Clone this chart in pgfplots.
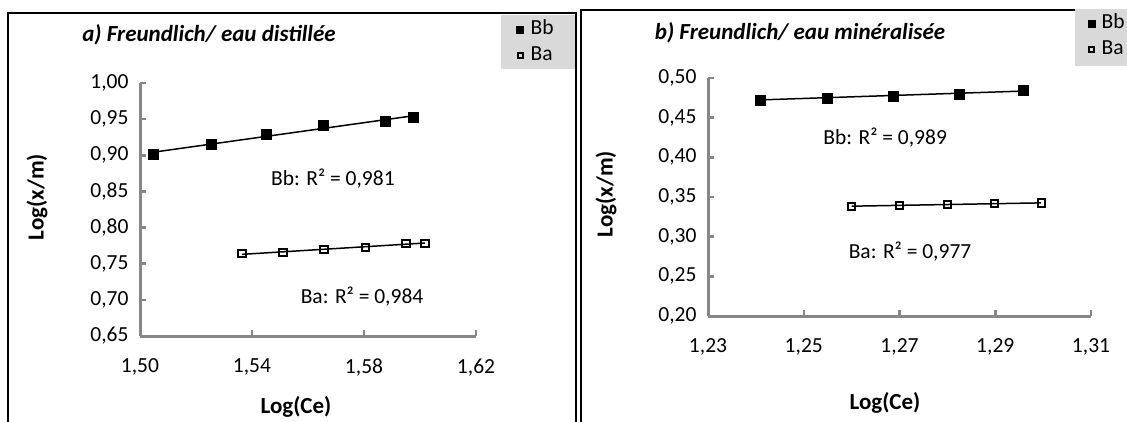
\documentclass[border=0pt]{standalone}
\usepackage{pgfplots}
\usepackage{pgfplotstable}
\pgfplotsset{compat=1.18}
\usepackage{fontspec}
\setmainfont{Carlito}
\definecolor{axgray}{HTML}{878787}
\definecolor{leggray}{HTML}{D9D9D9}
\newcommand{\fs}[1]{\fontsize{#1}{#1}\selectfont}

\pgfplotstableread{
x y
1.5046 0.902
1.5254 0.915
1.5452 0.929
1.5656 0.941
1.5875 0.947
1.5975 0.953
}\bbA
\pgfplotstableread{
x y
1.5364 0.7636
1.5511 0.7659
1.5657 0.7695
1.5804 0.7727
1.5950 0.7782
1.6018 0.7782
}\baA
\pgfplotstableread{
x y
1.2408 0.4725
1.2548 0.4750
1.2687 0.4775
1.2825 0.4800
1.2959 0.4840
}\bbB
\pgfplotstableread{
x y
1.2600 0.3384
1.2700 0.3396
1.2800 0.3409
1.2898 0.3418
1.2996 0.3425
}\baB

\pgfplotsset{
  excelax/.style={
    scale only axis, clip=false,
    axis x line*=bottom, axis y line*=left,
    axis line style={draw=axgray, line width=3pt},
    every outer x axis line/.append style={-},
    every outer y axis line/.append style={-},
    every inner x axis line/.append style={-},
    every inner y axis line/.append style={-},
    tick align=inside, major tick length=6pt,
    major tick style={draw=axgray, line width=2.5pt},
    tick label style={font=\fs{21.5}},
    /pgf/number format/assume math mode=true,
    /pgf/number format/use comma,
    /pgf/number format/fixed,
    /pgf/number format/fixed zerofill,
    /pgf/number format/precision=2,
    yticklabel style={xshift=-8pt},
    xticklabel style={yshift=-19pt},
    legend style={draw=none, fill=none, font=\fs{21.5}, inner sep=0pt,
      nodes={inner sep=2pt, text height=14pt, text depth=4pt},
      row sep=4pt,
      /tikz/every odd column/.append style={column sep=5pt}},
    legend cell align=left,
    legend image code/.code={\draw[##1, every mark/.append style={scale=0.7}] plot coordinates {(0pt,0pt)};},
  },
  bbplot/.style={only marks, mark=square*, mark size=5pt, mark options={solid, draw=black, fill=black}},
  baplot/.style={only marks, mark=square, mark size=3.6pt, mark options={solid, draw=black, line width=2pt, fill=white}},
  trend/.style={black, line width=1.5pt, no marks, forget plot},
}

\begin{document}
\begin{tikzpicture}[x=1pt,y=1pt]
\path[use as bounding box] (0,0) rectangle (1127,421);
\fill[leggray] (501,352) rectangle (575,406);
\draw[line width=2pt] (8,-10) -- (8,408) -- (576,408) -- (576,-10);
\draw[line width=1.3pt] (581,-10) -- (581,411) -- (1140,411);
\fill[leggray] (1075,355) rectangle (1127,412);

\node[font=\fs{23}\bfseries\itshape] at (209,386) {a) Freundlich/ eau distillée};
\node[font=\fs{23}\bfseries\itshape] at (800,388) {b) Freundlich/ eau minéralisée};
\node[font=\fs{23}\bfseries, rotate=90] at (37,224) {Log(x/m)};
\node[font=\fs{23}\bfseries, rotate=90] at (606,227) {Log(x/m)};
\node[font=\fs{23}\bfseries] at (296,14) {Log(Ce)};
\node[font=\fs{23}\bfseries] at (885,18) {Log(Ce)};

\begin{axis}[excelax, at={(140pt,85pt)}, anchor=south west,
  width=336pt, height=253pt,
  xmin=1.50, xmax=1.62, ymin=0.65, ymax=1.00,
  xtick={1.50,1.54,1.58,1.62},
  ytick={0.65,0.70,0.75,0.80,0.85,0.90,0.95,1.00},
  legend style={at={(1.1205,1.2569)}, anchor=north west}]
\addplot[trend] table[x=x, y={create col/linear regression={y=y}}] {\bbA};
\addplot[trend] table[x=x, y={create col/linear regression={y=y}}] {\baA};
\addplot[bbplot] table[x=x, y=y] {\bbA};
\addlegendentry{Bb}
\addplot[baplot] table[x=x, y=y] {\baA};
\addlegendentry{Ba}
\node[font=\fs{21.5}] at (axis cs:1.5689,0.868) {Bb: R² = 0,981};
\node[font=\fs{21.5}] at (axis cs:1.5793,0.704) {Ba: R² = 0,984};
\end{axis}

\begin{axis}[excelax, at={(708pt,105pt)}, anchor=south west,
  width=383pt, height=238pt,
  xmin=1.23, xmax=1.31, ymin=0.20, ymax=0.50,
  xtick={1.23,1.25,1.27,1.29,1.31},
  ytick={0.20,0.25,0.30,0.35,0.40,0.45,0.50},
  legend style={at={(0.9909,1.2773)}, anchor=north west}]
\addplot[trend] table[x=x, y={create col/linear regression={y=y}}] {\bbB};
\addplot[trend] table[x=x, y={create col/linear regression={y=y}}] {\baB};
\addplot[bbplot] table[x=x, y=y] {\bbB};
\addlegendentry{Bb}
\addplot[baplot] table[x=x, y=y] {\baB};
\addlegendentry{Ba}
\node[font=\fs{21.5}] at (axis cs:1.2670,0.425) {Bb: R² = 0,989};
\node[font=\fs{21.5}] at (axis cs:1.2722,0.281) {Ba: R² = 0,977};
\end{axis}
\end{tikzpicture}
\end{document}
